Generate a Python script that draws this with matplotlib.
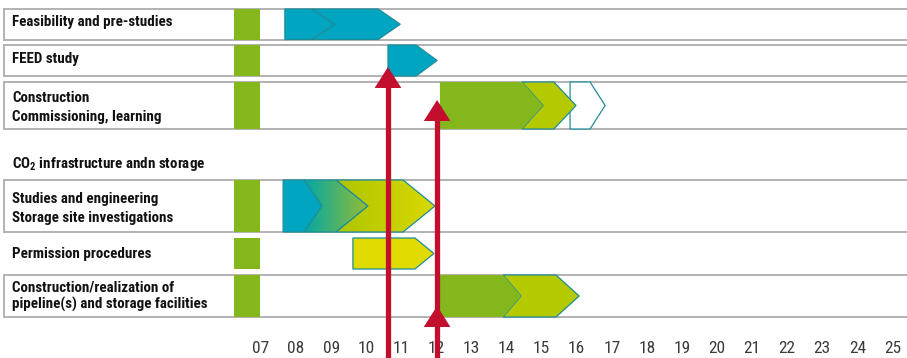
import matplotlib
matplotlib.use('Agg')
import matplotlib.pyplot as plt
from matplotlib.patches import Polygon, Rectangle
from matplotlib.colors import LinearSegmentedColormap
from matplotlib import font_manager
import numpy as np

# ---------------- data ----------------
year_labels = ['07', '08', '09', '10', '11', '12', '13', '14', '15', '16',
               '17', '18', '19', '20', '21', '22', '23', '24', '25']
year_pos = list(range(7, 26))

row_labels = [
    ['Feasibility and pre-studies'],
    ['FEED study'],
    ['Construction', 'Commissioning, learning'],
    ['Studies and engineering', 'Storage site investigations'],
    ['Permission procedures'],
    ['Construction/realization of', 'pipeline(s) and storage facilities'],
]
section_label = r'CO$_{\mathbf{2}}$ infrastructure andn storage'

# start marker (year span)
marker_start, marker_end = 6.23, 6.97

# chevron segments: row, start year, body end year, tip depth, notch depth, fill
segments = [
    (0, 7.68, 8.45, 0.66, 0.00, 'teal'),
    (0, 8.45, 10.34, 0.63, 0.66, 'teal'),
    (1, 10.62, 11.42, 0.60, 0.00, 'teal'),
    (2, 15.81, 16.38, 0.43, 0.00, 'white'),
    (2, 14.44, 15.35, 0.63, 0.60, 'lime'),
    (2, 12.10, 14.44, 0.60, 0.00, 'green'),
    (3, 7.63, 8.23, 0.51, 0.00, 'teal'),
    (3, 8.23, 9.14, 0.91, 0.51, 'grad1'),
    (3, 9.14, 11.05, 0.91, 0.91, 'grad2'),
    (4, 9.62, 11.39, 0.54, 0.00, 'yellow'),
    (5, 13.90, 15.41, 0.66, 0.51, 'lime'),
    (5, 12.10, 13.90, 0.51, 0.00, 'green'),
]

# milestones (red arrows): year position, arrow-head tips
milestones = [(10.62, [67]), (12.02, [100, 306])]

# ---------------- layout (pixel-like vertical units) ----------------
W, H = 907, 358
px_per_year = 35.08
x_year07 = 261.0
xlim = (7 - x_year07 / px_per_year, 7 + (W - x_year07) / px_per_year)

row_spans = [(9, 39.5), (45, 76), (82, 129), (180, 232), (238, 269), (275, 317)]
row_boxed = [True, True, True, True, False, True]
label_baselines = [[26], [63], [102, 120.7], [203, 222], [258], [291, 308.5]]
section_baseline = 168
year_baseline = 353

colors = {
    'teal': '#00a6c1',
    'green': '#84b71c',
    'lime': '#b5c900',
    'yellow': '#dfdb00',
    'white': '#ffffff',
}
edges = {'green': 'none'}
gradients = {
    'grad1': ('#00a9a6', '#95bc34'),
    'grad2': ('#aec500', '#d8d800'),
}
edge_col = '#1f8d99'
red = '#c30f2e'
box_col = '#b2b2b2'
marker_col = '#84b71c'


def pick_font(cands):
    names = {f.name for f in font_manager.fontManager.ttflist}
    for c in cands:
        if c in names:
            return c
    return 'DejaVu Sans'


label_font = pick_font(['Liberation Sans Narrow', 'Roboto Condensed', 'Lato', 'Open Sans'])
year_font = pick_font(['Roboto Condensed', 'Liberation Sans Narrow', 'Lato'])

plt.rcParams['mathtext.fontset'] = 'custom'
plt.rcParams['mathtext.rm'] = label_font
plt.rcParams['mathtext.bf'] = label_font + ':bold'

fig = plt.figure(figsize=(W / 100, H / 100), dpi=100)
ax = fig.add_axes([0, 0, 1, 1])
ax.set_axis_off()


def to_year(px):
    return 7 + (px - x_year07) / px_per_year


# row boxes
for (top, bot), boxed in zip(row_spans, row_boxed):
    if boxed:
        ax.add_patch(Rectangle((to_year(4), top), to_year(940) - to_year(4), bot - top,
                               facecolor='white', edgecolor=box_col, lw=1.4, zorder=1))

# start markers
for top, bot in row_spans:
    ax.add_patch(Rectangle((marker_start, top), marker_end - marker_start, bot - top,
                           facecolor=marker_col, edgecolor='none', zorder=2))

# chevrons
for i, (row, xl, xr, tip, notch, fill) in enumerate(segments):
    top, bot = row_spans[row]
    mid = (top + bot) / 2
    pts = [(xl, top), (xr, top), (xr + tip, mid), (xr, bot), (xl, bot)]
    if notch > 0:
        pts.append((xl + notch, mid))
    z = 3 + i * 0.01
    if fill in gradients:
        c0, c1 = gradients[fill]
        cmap = LinearSegmentedColormap.from_list(fill, [c0, c1])
        im = ax.imshow(np.linspace(0, 1, 256).reshape(1, -1), cmap=cmap,
                       extent=[xl, xr + tip, bot, top], aspect='auto',
                       interpolation='bilinear', zorder=z)
        clip = Polygon(pts, closed=True, facecolor='none', edgecolor='none', zorder=z)
        ax.add_patch(clip)
        im.set_clip_path(clip)
        ax.add_patch(Polygon(pts, closed=True, facecolor='none', edgecolor=edge_col,
                             lw=0.9, zorder=z + 0.005))
    else:
        ax.add_patch(Polygon(pts, closed=True, facecolor=colors[fill],
                             edgecolor=edges.get(fill, edge_col), lw=0.9, zorder=z))

# labels
for lines, bases in zip(row_labels, label_baselines):
    for txt, b in zip(lines, bases):
        ax.text(to_year(12), b, txt, fontsize=10.8, fontweight='bold', family=label_font,
                color='#111111', va='baseline', ha='left', zorder=5)
ax.text(to_year(12), section_baseline, section_label, fontsize=10.8, fontweight='bold',
        family=label_font, color='#111111', va='baseline', ha='left', zorder=5)

# year labels
for lab, pos in zip(year_labels, year_pos):
    ax.text(pos, year_baseline, lab, fontsize=12.5, family=year_font, color='#3a3a3a',
            ha='center', va='baseline', zorder=5)

# milestones
head_w = 0.38
head_h = 21
for xm, tips in milestones:
    ax.plot([xm, xm], [min(tips) + head_h - 2, H + 5], color=red, lw=3.8,
            solid_capstyle='butt', zorder=6)
    for t in tips:
        ax.add_patch(Polygon([(xm, t), (xm + head_w, t + head_h), (xm - head_w, t + head_h)],
                             closed=True, facecolor=red, edgecolor='none', zorder=6))

ax.set_xlim(*xlim)
ax.set_ylim(H, 0)
fig.savefig('out.png', dpi=100)
